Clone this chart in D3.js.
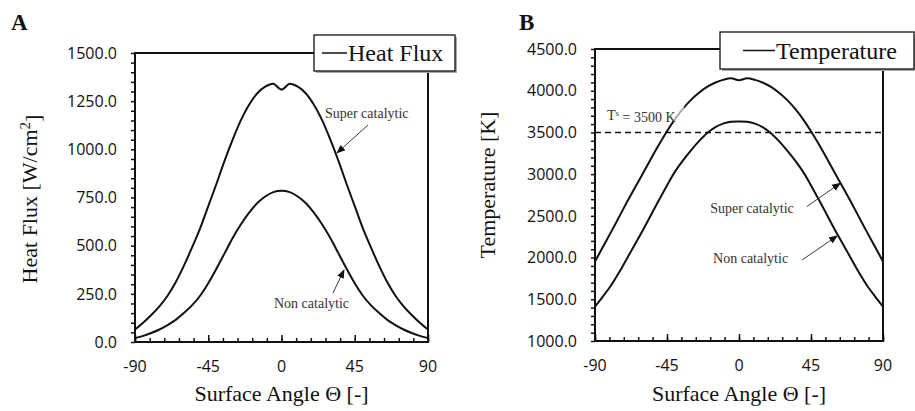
<!DOCTYPE html>
<html>
<head>
<meta charset="utf-8">
<script src="https://cdn.jsdelivr.net/npm/d3@7"></script>
<style>
  body { margin: 0; background: #fff; }
</style>
</head>
<body>
<div id="chart"></div>
<script>
// Surface angle samples (deg)
const angles = [-90, -85, -80, -75, -70, -65, -60, -55, -50, -45, -40, -35, -30, -25, -20, -15, -10, -5, 0,
  5, 10, 15, 20, 25, 30, 35, 40, 45, 50, 55, 60, 65, 70, 75, 80, 85, 90];

// Panel A: heat flux [W/cm2]
const heatSuper = [65, 100, 140, 185, 240, 310, 395, 490, 590, 705, 820, 940, 1050, 1150, 1230, 1290, 1325, 1340, 1310,
  1340, 1325, 1290, 1230, 1150, 1050, 940, 820, 705, 590, 490, 395, 310, 240, 185, 140, 100, 65];
const heatNon = [20, 32, 47, 65, 88, 115, 150, 190, 240, 305, 380, 460, 540, 610, 670, 720, 755, 778, 785,
  778, 755, 720, 670, 610, 540, 460, 380, 305, 240, 190, 150, 115, 88, 65, 47, 32, 20];

// Panel B: temperature [K]
const tempSuper = [1953, 2130, 2305, 2485, 2665, 2840, 3010, 3185, 3355, 3515, 3660, 3785, 3890, 3975, 4045, 4095, 4130, 4150, 4125,
  4150, 4130, 4095, 4045, 3975, 3890, 3785, 3660, 3515, 3355, 3185, 3010, 2840, 2665, 2485, 2305, 2130, 1953];
const tempNon = [1412, 1535, 1665, 1820, 1990, 2160, 2330, 2510, 2690, 2865, 3030, 3165, 3285, 3395, 3490, 3560, 3605, 3628, 3632,
  3628, 3605, 3560, 3490, 3395, 3285, 3165, 3030, 2865, 2690, 2510, 2330, 2160, 1990, 1820, 1665, 1535, 1412];

// Tick labels
const xTicks = [-90, -45, 0, 45, 90];
const xMinor = [-90, -81, -72, -63, -54, -45, -36, -27, -18, -9, 0, 9, 18, 27, 36, 45, 54, 63, 72, 81, 90];
const heatTicks = [0, 250, 500, 750, 1000, 1250, 1500];
const tempTicks = [1000, 1500, 2000, 2500, 3000, 3500, 4000, 4500];
const surfaceTemp = 3500;

const SERIF = "'Liberation Serif'";
const SANS = "'Open Sans'";

const width = 915, height = 411;
const svg = d3.select('#chart')
  .append('svg')
    .attr('width', width)
    .attr('height', height);

// arrow head
svg.append('defs')
  .append('marker')
    .attr('id', 'arrow')
    .attr('viewBox', '0 0 10 10')
    .attr('refX', 9).attr('refY', 5)
    .attr('markerWidth', 9).attr('markerHeight', 9)
    .attr('markerUnits', 'userSpaceOnUse')
    .attr('orient', 'auto')
  .append('path')
    .attr('d', 'M0,1 L10,5 L0,9 Z')
    .attr('fill', '#111');

function serifText(sel, size) {
  return sel.style('font-family', SERIF)
    .style('font-size', size + 'px')
    .attr('fill', '#111');
}

// centre a start-anchored text on cx by measuring it
function centreOn(t, cx) {
  const len = t.node().getComputedTextLength();
  t.attr('x', cx - len / 2);
}

function drawPanel(cfg) {
  const x = d3.scaleLinear().domain([-90, 90]).range([cfg.left, cfg.right]);
  const y = d3.scaleLinear().domain(cfg.yDomain).range([cfg.bottom, cfg.top]);
  const g = svg.append('g');

  // minor y ticks (outward)
  g.append('g')
    .attr('transform', `translate(${cfg.left},0)`)
    .call(d3.axisLeft(y).tickValues(cfg.yMinor).tickSize(4).tickFormat('').tickSizeOuter(0))
    .call(a => a.select('.domain').remove())
    .selectAll('line').attr('stroke', '#111').attr('stroke-width', 1.5);

  // minor x ticks (inward)
  g.append('g')
    .attr('transform', `translate(0,${cfg.bottom})`)
    .call(d3.axisBottom(x).tickValues(xMinor).tickSize(-4).tickFormat('').tickSizeOuter(0))
    .call(a => a.select('.domain').remove())
    .selectAll('line').attr('stroke', '#111').attr('stroke-width', 1.5);

  // major x ticks
  g.append('g')
    .attr('transform', `translate(0,${cfg.bottom})`)
    .call(d3.axisBottom(x).tickValues(xTicks).tickSize(-7).tickFormat('').tickSizeOuter(0))
    .call(a => a.select('.domain').remove())
    .selectAll('line').attr('stroke', '#111').attr('stroke-width', 1.5);

  // frame
  g.append('rect')
    .attr('x', cfg.left).attr('y', cfg.top)
    .attr('width', cfg.right - cfg.left).attr('height', cfg.bottom - cfg.top)
    .attr('fill', 'none').attr('stroke', '#111').attr('stroke-width', 2);

  // tick labels
  g.selectAll('.ylab').data(cfg.yTicks).join('text')
    .style('font-family', SANS).style('font-size', '16px').attr('fill', '#111')
    .attr('x', cfg.left - 18)
    .attr('y', d => y(d))
    .attr('dy', '0.36em')
    .attr('text-anchor', 'end')
    .text(d => d.toFixed(1));
  g.selectAll('.xlab').data(xTicks).join('text')
    .style('font-family', SANS).style('font-size', '16px').attr('fill', '#111')
    .attr('x', d => x(d))
    .attr('y', cfg.bottom + 30)
    .attr('text-anchor', 'middle')
    .text(d => d);

  // axis titles
  const xt = serifText(g.append('text'), 22)
    .attr('y', 401)
    .text('Surface Angle Θ [-]');
  centreOn(xt, (cfg.left + cfg.right) / 2);
  const yt = serifText(g.append('text'), 22)
    .attr('transform', `translate(${cfg.titleX},${cfg.titleY}) rotate(-90)`)
    .attr('y', 0);
  cfg.yTitle(yt);
  centreOn(yt, 0);

  // panel letter
  serifText(g.append('text'), 23)
    .attr('x', cfg.letterX).attr('y', 30)
    .style('font-weight', 'bold')
    .text(cfg.letter);

  if (cfg.before) cfg.before(g, x, y);

  // curves
  const line = d3.line()
    .x((d, i) => x(angles[i]))
    .y(d => y(d))
    .curve(d3.curveCatmullRom.alpha(0.5));
  cfg.series.forEach(s => {
    g.append('path')
      .attr('d', line(s))
      .attr('fill', 'none')
      .attr('stroke', '#111')
      .attr('stroke-width', 2);
  });

  if (cfg.after) cfg.after(g, x, y);

  // annotations
  cfg.notes.forEach(n => {
    serifText(g.append('text'), 14)
      .attr('fill', '#333')
      .attr('x', x(n.tx)).attr('y', y(n.ty))
      .text(n.label);
    g.append('line')
      .attr('x1', x(n.ax)).attr('y1', y(n.ay))
      .attr('x2', x(n.bx)).attr('y2', y(n.by))
      .attr('stroke', '#222').attr('stroke-width', 0.9)
      .attr('marker-end', 'url(#arrow)');
  });

  // legend
  const L = cfg.legend;
  const lg = g.append('g');
  lg.append('rect')
    .attr('x', L.x + 2).attr('y', L.y + 2)
    .attr('width', L.w).attr('height', L.h)
    .attr('fill', '#aaa');
  lg.append('rect')
    .attr('x', L.x).attr('y', L.y)
    .attr('width', L.w).attr('height', L.h)
    .attr('fill', '#fff').attr('stroke', '#111').attr('stroke-width', 1.3);
  lg.append('line')
    .attr('x1', L.x + L.l1).attr('x2', L.x + L.l2)
    .attr('y1', L.y + L.h / 2).attr('y2', L.y + L.h / 2)
    .attr('stroke', '#111').attr('stroke-width', 1.5);
  serifText(lg.append('text'), 24)
    .attr('x', L.x + L.l2 + 1)
    .attr('y', L.y + L.h / 2 + 8)
    .text(L.label);
}

// Panel A
drawPanel({
  left: 135, right: 428, top: 53, bottom: 342,
  yDomain: [0, 1500],
  yMinor: [0, 50, 100, 150, 200, 250, 300, 350, 400, 450, 500, 550, 600, 650, 700, 750, 800, 850, 900, 950, 1000, 1050, 1100, 1150, 1200, 1250, 1300, 1350, 1400, 1450, 1500],
  yTicks: heatTicks,
  series: [heatSuper, heatNon],
  letter: 'A', letterX: 11,
  titleX: 37, titleY: 199,
  yTitle: t => {
    t.append('tspan').text('Heat Flux [W/cm');
    t.append('tspan').attr('dy', '-0.45em').style('font-size', '15px').text('2');
    t.append('tspan').attr('dy', '0.45em').text(']');
  },
  notes: [
    { label: 'Super catalytic', tx: 26.7, ty: 1163, ax: 53.1, ay: 1126, bx: 34.1, by: 981 },
    { label: 'Non catalytic', tx: -4.6, ty: 178, ax: 31.6, ay: 254, bx: 38.4, by: 374 }
  ],
  legend: { x: 314, y: 35, w: 141, h: 36, l1: 8, l2: 33, label: 'Heat Flux' }
});

// Panel B
drawPanel({
  left: 595, right: 883, top: 49, bottom: 341,
  yDomain: [1000, 4500],
  yMinor: [1000, 1100, 1200, 1300, 1400, 1500, 1600, 1700, 1800, 1900, 2000, 2100, 2200, 2300, 2400, 2500, 2600, 2700, 2800, 2900, 3000, 3100, 3200, 3300, 3400, 3500, 3600, 3700, 3800, 3900, 4000, 4100, 4200, 4300, 4400, 4500],
  yTicks: tempTicks,
  series: [tempSuper, tempNon],
  letter: 'B', letterX: 519,
  titleX: 495, titleY: 185,
  yTitle: t => t.text('Temperature [K]'),
  before: (g, x, y) => {
    g.append('line')
      .attr('x1', x(-90)).attr('x2', x(90))
      .attr('y1', y(surfaceTemp)).attr('y2', y(surfaceTemp))
      .attr('stroke', '#111').attr('stroke-width', 1.5)
      .attr('stroke-dasharray', '6,4');
  },
  after: (g, x, y) => {
    g.append('rect')
      .attr('x', x(-83)).attr('y', y(3850))
      .attr('width', 78).attr('height', 18)
      .attr('fill', '#fff').attr('opacity', 0.65);
    const t = serifText(g.append('text'), 14)
      .attr('fill', '#333')
      .attr('x', x(-82.5)).attr('y', y(3652));
    t.append('tspan').text('T');
    t.append('tspan').attr('dy', '-0.4em').style('font-size', '9px').text('s');
    t.append('tspan').attr('dy', '0.4em').text(` = ${surfaceTemp} K`);
  },
  notes: [
    { label: 'Super catalytic', tx: -18.0, ty: 2536, ax: 42.4, ay: 2611, bx: 63.3, by: 2892 },
    { label: 'Non catalytic', tx: -16.2, ty: 1936, ax: 39.5, ay: 1972, bx: 61.4, by: 2260 }
  ],
  legend: { x: 720, y: 32, w: 194, h: 37, l1: 23, l2: 55, label: 'Temperature' }
});
</script>
</body>
</html>
